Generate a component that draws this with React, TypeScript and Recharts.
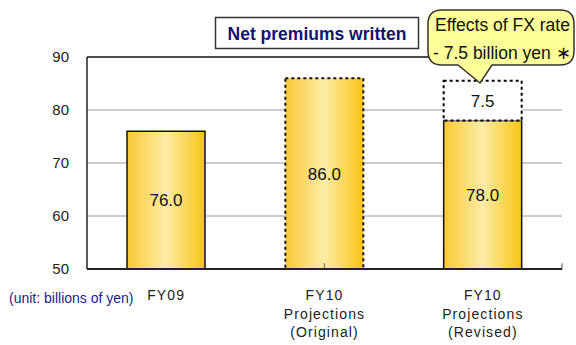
import React from 'react';
import {
  BarChart,
  Bar,
  XAxis,
  YAxis,
  CartesianGrid,
  Cell,
  LabelList,
  ReferenceLine,
} from 'recharts';

// Fiscal-year categories and their wrapped axis labels
const categories = ['FY09', 'FY10 Projections (Original)', 'FY10 Projections (Revised)'];
const categoryLines = [
  ['FY09'],
  ['FY10', 'Projections', '(Original)'],
  ['FY10', 'Projections', '(Revised)'],
];

// Net premiums written (billions of yen)
const netPremiums = [76.0, 86.0, 78.0];
// FX-rate effect stacked on top of the revised projection
const fxEffect: (number | null)[] = [null, null, 7.5];

const yTicks = [50, 60, 70, 80, 90];

const titleText = 'Net premiums written';
const unitText = '(unit: billions of yen)';
const calloutLines = ['Effects of FX rate', '- 7.5 billion yen \u2217'];

const data = categories.map((name, i) => ({
  name,
  base: netPremiums[i],
  fx: fxEffect[i],
}));

const SANS = '"Liberation Sans", Arial, sans-serif';

const XTick = (props: any) => {
  const { x, y, payload } = props;
  const lines = categoryLines[categories.indexOf(payload.value)] || [payload.value];
  return (
    <text
      x={x}
      y={y}
      textAnchor="middle"
      fontFamily={SANS}
      fontSize={14}
      letterSpacing={1.1}
      fill="#222"
    >
      {lines.map((l: string, i: number) => (
        <tspan key={i} x={x} y={y + 23 + i * 18.5}>
          {l}
        </tspan>
      ))}
    </text>
  );
};

const YTick = (props: any) => {
  const { y, payload } = props;
  return (
    <text
      x={69}
      y={y}
      dy="0.36em"
      textAnchor="end"
      fontFamily={SANS}
      fontSize={15}
      fill="#222"
    >
      {payload.value}
    </text>
  );
};

const fmt = (v: any) => (v == null ? '' : Number(v).toFixed(1));

export default function App() {
  return (
    <div style={{ position: 'absolute', left: 0, top: 0, width: 576, height: 345, background: '#fff' }}>
      <BarChart
        width={576}
        height={345}
        data={data}
        margin={{ top: 57, right: 14, bottom: 0, left: 0 }}
        style={{ fontFamily: SANS }}
      >
        <defs>
          <linearGradient id="gold" x1="0" y1="0" x2="1" y2="0">
            <stop offset="0%" stopColor="#f9c835" />
            <stop offset="50%" stopColor="#fdeca6" />
            <stop offset="100%" stopColor="#f7c414" />
          </linearGradient>
        </defs>
        <CartesianGrid horizontal vertical={false} stroke="#9a9a9a" strokeWidth={1} />
        <XAxis
          dataKey="name"
          height={76}
          axisLine={{ stroke: '#222', strokeWidth: 2 }}
          tickLine={false}
          tick={<XTick />}
          interval={0}
        />
        <XAxis xAxisId="grid" type="number" domain={[0, 3]} hide />
        <YAxis
          width={87}
          domain={[50, 90]}
          ticks={yTicks}
          allowDataOverflow
          axisLine={{ stroke: '#222', strokeWidth: 1.5 }}
          tickLine={false}
          tick={<YTick />}
        />
        <ReferenceLine y={90} stroke="#222" strokeWidth={1.5} />
        <ReferenceLine xAxisId="grid" x={3} stroke="#222" strokeWidth={1.5} />
        <ReferenceLine
          xAxisId="grid"
          segment={[{ x: 1, y: 50 }, { x: 1, y: 51.1 }]}
          stroke="#888"
          strokeWidth={1.5}
        />
        <ReferenceLine
          xAxisId="grid"
          segment={[{ x: 2, y: 50 }, { x: 2, y: 51.1 }]}
          stroke="#888"
          strokeWidth={1.5}
        />
        <Bar dataKey="base" stackId="a" barSize={78} isAnimationActive={false}>
          {data.map((_, i) => (
            <Cell
              key={i}
              fill="url(#gold)"
              stroke="#111"
              strokeWidth={i === 1 ? 2 : 1.5}
              strokeDasharray={i === 1 ? '3 3' : undefined}
            />
          ))}
          <LabelList
            dataKey="base"
            position="center"
            formatter={fmt}
            fill="#111"
            fontSize={17}
            fontFamily={SANS}
          />
        </Bar>
        <Bar
          dataKey="fx"
          stackId="a"
          barSize={78}
          fill="#fff"
          stroke="#000"
          strokeWidth={2}
          strokeDasharray="3 3"
          isAnimationActive={false}
        >
          <LabelList
            dataKey="fx"
            position="center"
            formatter={fmt}
            fill="#111"
            fontSize={17}
            fontFamily={SANS}
          />
        </Bar>
      </BarChart>
      <svg
        width={576}
        height={345}
        style={{ position: 'absolute', left: 0, top: 0, pointerEvents: 'none' }}
      >
        <rect x={215.5} y={17.5} width={203} height={31} fill="#fff" stroke="#333" strokeWidth={1.5} />
        <text
          x={317}
          y={39.5}
          textAnchor="middle"
          fontFamily={SANS}
          fontWeight="bold"
          fontSize={17.5}
          fill="#14146e"
        >
          {titleText}
        </text>
        <path
          d="M 442 10 H 560 Q 574 10 574 24 V 51 Q 574 65 560 65 H 492 L 480 83 L 458 65 H 442 Q 428 65 428 51 V 24 Q 428 10 442 10 Z"
          fill="#ffff99"
          stroke="#333"
          strokeWidth={1.5}
        />
        <text x={435} y={31} fontFamily={SANS} fontSize={17.5} fill="#111">
          {calloutLines[0]}
        </text>
        <text x={433} y={58.5} fontFamily={SANS} fontSize={17.5} fill="#111">
          {calloutLines[1]}
        </text>
        <text x={9} y={303} fontFamily={SANS} fontSize={14} fill="#1c1c8c">
          {unitText}
        </text>
      </svg>
    </div>
  );
}
